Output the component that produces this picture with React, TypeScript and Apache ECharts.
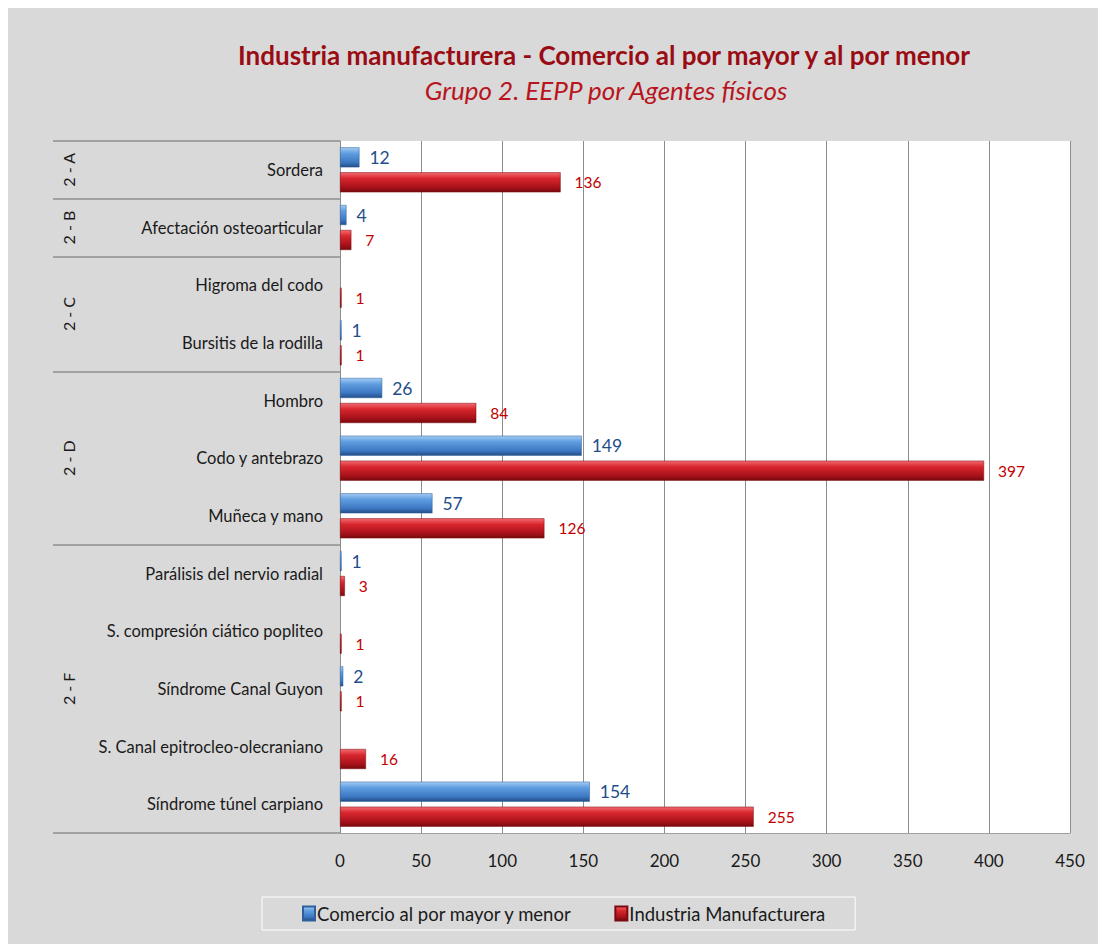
import React, { useEffect, useRef } from "react";
import * as echarts from "echarts";

const categories = [
  "Sordera",
  "Afectación osteoarticular",
  "Higroma del codo",
  "Bursitis de la rodilla",
  "Hombro",
  "Codo y antebrazo",
  "Muñeca y mano",
  "Parálisis del nervio radial",
  "S. compresión ciático popliteo",
  "Síndrome Canal Guyon",
  "S. Canal epitrocleo-olecraniano",
  "Síndrome túnel carpiano",
];
const comercio = [12, 4, null, 1, 26, 149, 57, 1, null, 2, null, 154];
const industria = [136, 7, 1, 1, 84, 397, 126, 3, 1, 1, 16, 255];
const groupLabels = ["2 - A", "2 - B", "2 - C", "2 - D", "2 - F"];
const groupStarts = [0, 1, 2, 4, 7];
const xTicks = { min: 0, max: 450, interval: 50 };
const seriesNames = ["Comercio al por mayor y menor", "Industria Manufacturera"];

const FONT = "Lato, 'Noto Sans', sans-serif";

export default function App() {
  const ref = useRef<HTMLDivElement>(null);
  useEffect(() => {
    document.body.style.overflow = "hidden";
    const chart = echarts.init(ref.current!, null, { renderer: "svg" });
    const blueGrad = new echarts.graphic.LinearGradient(0, 0, 0, 1, [
      { offset: 0, color: "#a3cbf3" },
      { offset: 0.3, color: "#5f9de0" },
      { offset: 0.75, color: "#3d78c2" },
      { offset: 1, color: "#234e88" },
    ]);
    const redGrad = new echarts.graphic.LinearGradient(0, 0, 0, 1, [
      { offset: 0, color: "#f26a70" },
      { offset: 0.3, color: "#d9262e" },
      { offset: 0.75, color: "#a8121a" },
      { offset: 1, color: "#780a0e" },
    ]);
    const groupEnds = groupStarts.slice(1).concat([categories.length]);
    chart.setOption({
      animation: false,
      backgroundColor: "#d9d9d9",
      textStyle: { fontFamily: FONT },
      title: [
        {
          text: "Industria manufacturera - Comercio al por mayor y al por menor",
          left: 591,
          top: 29,
          textAlign: "center",
          textStyle: { fontFamily: FONT, fontSize: 26, fontWeight: "bold", color: "#9a0c14" },
        },
        {
          text: "Grupo 2. EEPP por Agentes físicos",
          left: 593,
          top: 64,
          textAlign: "center",
          textStyle: { fontFamily: FONT, fontSize: 26, fontWeight: "normal", fontStyle: "italic", color: "#b8151d" },
        },
      ],
      legend: {
        left: 254,
        top: 889,
        padding: [7, 30, 7, 40],
        itemGap: 42,
        itemWidth: 12,
        itemHeight: 14,
        borderColor: "#ffffff",
        borderWidth: 1,
        icon: "rect",
        textStyle: { fontFamily: FONT, fontSize: 18.5, color: "#1a1a1a", padding: [0, 0, 0, -3] },
        data: seriesNames,
      },
      grid: {
        left: 332,
        right: 36,
        top: 133,
        bottom: 111,
        show: true,
        backgroundColor: "#ffffff",
        borderWidth: 0,
      },
      xAxis: {
        type: "value",
        min: xTicks.min,
        max: xTicks.max,
        interval: xTicks.interval,
        axisLine: { show: true, lineStyle: { color: "#a0a0a0", width: 1 } },
        axisTick: { show: false },
        axisLabel: { fontFamily: FONT, fontSize: 17, color: "#1a1a1a", margin: 19 },
        splitLine: { show: true, lineStyle: { color: "#8c8c8c", width: 1 } },
      },
      yAxis: {
        type: "category",
        inverse: true,
        data: categories,
        axisLine: { show: true, lineStyle: { color: "#8c8c8c", width: 1 } },
        axisTick: {
          show: true,
          length: 287,
          interval: (index: number) => groupStarts.includes(index) || index === categories.length,
          lineStyle: { color: "#8f8f8f", width: 1.5 },
        },
        axisLabel: { fontFamily: FONT, fontSize: 16.5, color: "#1a1a1a", margin: 17 },
      },
      series: [
        {
          name: seriesNames[0],
          type: "bar",
          data: comercio,
          barWidth: 20,
          barGap: "25%",
          itemStyle: { color: blueGrad, borderColor: "#2f5f9c", borderWidth: 0.5 },
          label: {
            show: true,
            position: "right",
            distance: 10,
            fontFamily: FONT,
            fontSize: 17.5,
            color: "#1f4e8c",
          },
        },
        {
          name: seriesNames[1],
          type: "bar",
          data: industria,
          barWidth: 20,
          barGap: "25%",
          itemStyle: { color: redGrad, borderColor: "#7a0a0e", borderWidth: 0.5 },
          label: {
            show: true,
            position: "right",
            distance: 14,
            fontFamily: FONT,
            fontSize: 15.5,
            color: "#c00000",
          },
        },
      ],
    });
    const gfx = groupLabels.map((g, i) => {
      const y0 = chart.convertToPixel({ yAxisIndex: 0 }, categories[groupStarts[i]]) as number;
      const y1 = chart.convertToPixel({ yAxisIndex: 0 }, categories[groupEnds[i] - 1]) as number;
      return {
        type: "text",
        x: 60,
        y: (y0 + y1) / 2,
        rotation: Math.PI / 2,
        style: {
          text: g,
          fontFamily: FONT,
          fontSize: 16,
          fill: "#1a1a1a",
          align: "center",
          verticalAlign: "middle",
        },
      };
    });
    chart.setOption({ graphic: gfx });
    return () => chart.dispose();
  }, []);
  return <div ref={ref} style={{ width: 1098, height: 936 }} />;
}
